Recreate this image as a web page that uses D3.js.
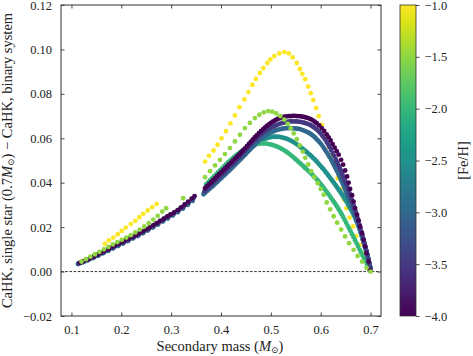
<!DOCTYPE html>
<html><head><meta charset="utf-8">
<script src="https://cdn.jsdelivr.net/npm/d3@7"></script>
<style>
body{margin:0;background:#fff}
svg{display:block}
</style>
</head><body>
<svg id="chart" width="473" height="356"></svg>
<script>
// ---------------- data ----------------
const xTicks = [0.1, 0.2, 0.3, 0.4, 0.5, 0.6, 0.7];
const yTicks = [-0.02, 0.00, 0.02, 0.04, 0.06, 0.08, 0.10, 0.12];
const cbTicks = [-1.0, -1.5, -2.0, -2.5, -3.0, -3.5, -4.0];
const xLabel = "Secondary mass";
const yLabel = "CaHK, single star";
const cbLabel = "[Fe/H]";

// [Fe/H] = -1.0
const feh_m10 = [
 [0.121,0.0043],[0.130,0.0052],[0.139,0.0063],[0.148,0.0074],[0.157,0.0085],
 [0.167,0.0125],[0.175,0.0140],[0.184,0.0153],[0.193,0.0168],[0.201,0.0183],[0.209,0.0198],[0.219,0.0214],
 [0.228,0.0228],[0.236,0.0245],[0.244,0.0260],[0.253,0.0275],[0.262,0.0290],[0.271,0.0305],
 [0.368,0.0495],[0.376,0.0521],[0.385,0.0545],[0.393,0.0571],[0.401,0.0600],[0.410,0.0632],[0.419,0.0667],
 [0.428,0.0703],[0.437,0.0740],[0.447,0.0775],[0.455,0.0808],[0.463,0.0840],[0.470,0.0867],[0.478,0.0894],
 [0.485,0.0916],[0.493,0.0939],[0.499,0.0955],[0.507,0.0970],[0.517,0.0982],[0.527,0.0988],[0.536,0.0982],
 [0.544,0.0964],[0.552,0.0939],[0.558,0.0912],[0.563,0.0890],[0.569,0.0866],[0.575,0.0833],[0.580,0.0803],
 [0.585,0.0772],[0.591,0.0736],[0.596,0.0700],[0.602,0.0660],[0.609,0.0615],[0.617,0.0560],[0.622,0.0522],
 [0.628,0.0480],[0.634,0.0420],[0.640,0.0370],[0.646,0.0325],[0.652,0.0285],[0.658,0.0243],[0.665,0.0203],
 [0.671,0.0160],[0.678,0.0120],[0.685,0.0083],[0.691,0.0045],[0.698,0.0008]
];
// [Fe/H] = -1.5
const feh_m15 = [
 [0.120,0.0045],[0.129,0.0056],[0.138,0.0067],[0.147,0.0078],[0.156,0.0089],[0.165,0.0100],[0.174,0.0111],
 [0.183,0.0122],[0.192,0.0133],[0.201,0.0143],[0.210,0.0153],[0.219,0.0164],[0.228,0.0176],[0.237,0.0189],
 [0.246,0.0203],[0.255,0.0218],[0.264,0.0234],[0.273,0.0251],[0.282,0.0270],[0.290,0.0285],[0.324,0.0330],
 [0.368,0.0425],[0.378,0.0452],[0.388,0.0478],[0.398,0.0503],[0.408,0.0529],[0.418,0.0556],[0.428,0.0586],
 [0.438,0.0616],[0.448,0.0646],[0.458,0.0669],[0.468,0.0691],[0.477,0.0706],[0.486,0.0717],[0.495,0.0722],
 [0.503,0.0720],[0.511,0.0712],[0.519,0.0700],[0.527,0.0684],[0.534,0.0665],[0.540,0.0645],[0.546,0.0622],
 [0.552,0.0596],[0.558,0.0568],[0.564,0.0540],[0.569,0.0512],[0.575,0.0482],[0.581,0.0452],[0.587,0.0425],
 [0.594,0.0398],[0.600,0.0372],[0.606,0.0346],[0.612,0.0311],[0.619,0.0280],[0.626,0.0249],[0.633,0.0220],
 [0.641,0.0189],[0.649,0.0158],[0.657,0.0128],[0.666,0.0098],[0.674,0.0070],[0.683,0.0045],[0.692,0.0017],
 [0.700,0.0000]
];
// [Fe/H] = -2.0
const feh_m20 = [
 [0.118,0.0038],[0.128,0.0047],[0.138,0.0058],[0.148,0.0069],[0.158,0.0080],[0.168,0.0092],[0.178,0.0104],
 [0.188,0.0116],[0.198,0.0127],[0.208,0.0138],[0.218,0.0149],[0.228,0.0160],[0.238,0.0172],[0.248,0.0185],
 [0.258,0.0199],[0.268,0.0213],[0.278,0.0228],[0.288,0.0242],[0.298,0.0256],[0.308,0.0269],[0.318,0.0284],
 [0.328,0.0301],
 [0.370,0.0392],[0.374,0.0401],[0.378,0.0410],[0.382,0.0419],[0.386,0.0428],[0.390,0.0437],[0.394,0.0446],
 [0.398,0.0455],[0.402,0.0464],[0.406,0.0473],[0.410,0.0482],[0.414,0.0491],[0.418,0.0499],[0.422,0.0507],
 [0.426,0.0515],[0.430,0.0523],[0.434,0.0530],[0.438,0.0537],[0.442,0.0543],[0.446,0.0549],[0.450,0.0554],
 [0.454,0.0559],[0.458,0.0563],[0.462,0.0567],[0.466,0.0570],[0.470,0.0573],[0.474,0.0575],[0.478,0.0576],
 [0.482,0.0577],[0.486,0.0577],[0.490,0.0576],[0.494,0.0575],[0.498,0.0573],[0.502,0.0571],[0.506,0.0568],
 [0.510,0.0565],[0.514,0.0561],[0.518,0.0557],[0.522,0.0552],[0.526,0.0547],[0.530,0.0541],[0.534,0.0535],
 [0.538,0.0528],[0.542,0.0521],[0.546,0.0513],[0.549,0.0507],[0.552,0.0501],[0.555,0.0495],[0.558,0.0489],
 [0.561,0.0483],[0.564,0.0477],[0.567,0.0470],[0.570,0.0464],[0.573,0.0458],[0.576,0.0452],[0.579,0.0446],
 [0.582,0.0439],[0.585,0.0432],[0.588,0.0425],[0.591,0.0418],[0.594,0.0410],[0.597,0.0402],[0.600,0.0394],
 [0.603,0.0386],[0.606,0.0377],[0.609,0.0368],[0.612,0.0359],[0.615,0.0350],[0.618,0.0341],[0.621,0.0331],
 [0.624,0.0322],[0.627,0.0312],[0.630,0.0302],[0.633,0.0292],[0.636,0.0281],[0.639,0.0270],[0.642,0.0258],
 [0.645,0.0246],[0.648,0.0233],[0.651,0.0220],[0.654,0.0207],[0.657,0.0194],[0.660,0.0181],[0.663,0.0168],
 [0.666,0.0155],[0.669,0.0141],[0.672,0.0127],[0.675,0.0113],[0.678,0.0099],[0.681,0.0086],[0.684,0.0072],
 [0.687,0.0059],[0.690,0.0046],[0.693,0.0033],[0.696,0.0020],[0.699,0.0007]
];
// [Fe/H] = -2.5
const feh_m25 = [
 [0.114,0.0036],[0.124,0.0044],[0.134,0.0053],[0.144,0.0063],[0.154,0.0073],[0.164,0.0084],[0.174,0.0095],
 [0.184,0.0106],[0.194,0.0117],[0.204,0.0128],[0.214,0.0140],[0.224,0.0151],[0.234,0.0163],[0.244,0.0175],
 [0.254,0.0188],[0.264,0.0201],[0.274,0.0214],[0.284,0.0228],[0.294,0.0242],[0.304,0.0255],[0.314,0.0270],
 [0.324,0.0286],[0.334,0.0303],
 [0.366,0.0355],[0.370,0.0364],[0.374,0.0372],[0.378,0.0381],[0.382,0.0390],[0.386,0.0398],[0.390,0.0407],
 [0.394,0.0416],[0.398,0.0425],[0.402,0.0433],[0.406,0.0442],[0.410,0.0450],[0.414,0.0459],[0.418,0.0467],
 [0.422,0.0476],[0.426,0.0484],[0.430,0.0493],[0.434,0.0501],[0.438,0.0510],[0.442,0.0518],[0.446,0.0527],
 [0.450,0.0535],[0.454,0.0543],[0.458,0.0551],[0.462,0.0559],[0.466,0.0566],[0.470,0.0573],[0.474,0.0579],
 [0.478,0.0585],[0.482,0.0590],[0.486,0.0595],[0.490,0.0599],[0.494,0.0602],[0.498,0.0604],[0.502,0.0606],
 [0.506,0.0607],[0.510,0.0607],[0.514,0.0607],[0.518,0.0606],[0.522,0.0604],[0.526,0.0602],[0.530,0.0599],
 [0.534,0.0596],[0.538,0.0592],[0.542,0.0587],[0.546,0.0582],[0.550,0.0576],[0.554,0.0570],[0.558,0.0563],
 [0.561,0.0558],[0.564,0.0552],[0.567,0.0547],[0.570,0.0541],[0.573,0.0536],[0.576,0.0530],[0.579,0.0524],
 [0.582,0.0518],[0.585,0.0511],[0.588,0.0505],[0.591,0.0498],[0.594,0.0490],[0.597,0.0483],[0.600,0.0475],
 [0.603,0.0467],[0.606,0.0460],[0.609,0.0451],[0.612,0.0443],[0.615,0.0434],[0.618,0.0425],[0.621,0.0416],
 [0.624,0.0407],[0.627,0.0398],[0.630,0.0389],[0.632,0.0382],[0.634,0.0376],[0.636,0.0370],[0.638,0.0363],
 [0.640,0.0356],[0.642,0.0350],[0.644,0.0343],[0.646,0.0336],[0.648,0.0329],[0.650,0.0321],[0.652,0.0314],
 [0.654,0.0306],[0.656,0.0298],[0.658,0.0290],[0.660,0.0282],[0.662,0.0274],[0.664,0.0265],[0.666,0.0256],
 [0.668,0.0247],[0.670,0.0237],[0.672,0.0227],[0.674,0.0217],[0.676,0.0206],[0.678,0.0194],[0.680,0.0182],
 [0.682,0.0169],[0.684,0.0155],[0.686,0.0141],[0.688,0.0126],[0.690,0.0110],[0.692,0.0093],[0.694,0.0076],
 [0.696,0.0058],[0.698,0.0039],[0.700,0.0020]
];
// [Fe/H] = -3.0
const feh_m30 = [
 [0.113,0.0034],[0.123,0.0042],[0.133,0.0051],[0.143,0.0061],[0.153,0.0071],[0.163,0.0082],[0.173,0.0093],
 [0.183,0.0104],[0.193,0.0115],[0.203,0.0126],[0.213,0.0137],[0.223,0.0149],[0.233,0.0160],[0.243,0.0172],
 [0.253,0.0185],[0.263,0.0198],[0.273,0.0211],[0.283,0.0225],[0.293,0.0239],[0.303,0.0252],[0.313,0.0267],
 [0.323,0.0283],[0.333,0.0300],[0.343,0.0318],
 [0.365,0.0348],[0.369,0.0356],[0.373,0.0364],[0.377,0.0372],[0.381,0.0380],[0.385,0.0388],[0.389,0.0396],
 [0.393,0.0404],[0.397,0.0413],[0.401,0.0421],[0.405,0.0430],[0.409,0.0438],[0.413,0.0447],[0.417,0.0455],
 [0.421,0.0464],[0.425,0.0473],[0.429,0.0482],[0.433,0.0491],[0.437,0.0500],[0.441,0.0509],[0.445,0.0518],
 [0.449,0.0527],[0.453,0.0537],[0.457,0.0546],[0.461,0.0556],[0.465,0.0565],[0.469,0.0574],[0.473,0.0583],
 [0.477,0.0591],[0.481,0.0599],[0.485,0.0606],[0.489,0.0612],[0.493,0.0618],[0.497,0.0623],[0.501,0.0627],
 [0.505,0.0631],[0.509,0.0635],[0.513,0.0638],[0.517,0.0640],[0.521,0.0642],[0.525,0.0644],[0.529,0.0645],
 [0.533,0.0646],[0.537,0.0646],[0.541,0.0646],[0.545,0.0645],[0.549,0.0645],[0.553,0.0643],[0.557,0.0642],
 [0.561,0.0639],[0.565,0.0636],[0.569,0.0632],[0.573,0.0628],[0.576,0.0625],[0.579,0.0621],[0.582,0.0616],
 [0.585,0.0611],[0.588,0.0605],[0.591,0.0598],[0.594,0.0591],[0.597,0.0584],[0.600,0.0576],[0.603,0.0567],
 [0.606,0.0557],[0.609,0.0547],[0.612,0.0537],[0.615,0.0526],[0.618,0.0515],[0.621,0.0503],[0.624,0.0491],
 [0.626,0.0482],[0.628,0.0474],[0.630,0.0465],[0.632,0.0456],[0.634,0.0447],[0.636,0.0437],[0.638,0.0427],
 [0.640,0.0417],[0.642,0.0407],[0.644,0.0396],[0.646,0.0386],[0.648,0.0375],[0.650,0.0364],[0.652,0.0353],
 [0.654,0.0342],[0.656,0.0330],[0.658,0.0319],[0.660,0.0307],[0.662,0.0295],[0.664,0.0283],[0.666,0.0270],
 [0.668,0.0257],[0.670,0.0244],[0.672,0.0231],[0.674,0.0217],[0.676,0.0204],[0.678,0.0190],[0.680,0.0175],
 [0.682,0.0161],[0.684,0.0146],[0.686,0.0131],[0.688,0.0115],[0.690,0.0100],[0.692,0.0082],[0.694,0.0064],
 [0.696,0.0045],[0.698,0.0027],[0.700,0.0008]
];
// [Fe/H] = -3.5
const feh_m35 = [
 [0.115,0.0037],[0.125,0.0046],[0.135,0.0055],[0.145,0.0065],[0.155,0.0076],[0.165,0.0087],[0.175,0.0098],
 [0.185,0.0110],[0.195,0.0121],[0.205,0.0132],[0.215,0.0144],[0.225,0.0155],[0.235,0.0167],[0.245,0.0180],
 [0.255,0.0193],[0.265,0.0206],[0.275,0.0220],[0.285,0.0234],[0.295,0.0248],[0.305,0.0261],[0.315,0.0276],
 [0.325,0.0293],[0.335,0.0311],[0.345,0.0331],
 [0.367,0.0362],[0.371,0.0370],[0.375,0.0379],[0.379,0.0388],[0.383,0.0396],[0.387,0.0405],[0.391,0.0413],
 [0.395,0.0422],[0.399,0.0430],[0.403,0.0439],[0.407,0.0448],[0.411,0.0457],[0.415,0.0466],[0.419,0.0475],
 [0.423,0.0484],[0.427,0.0493],[0.431,0.0502],[0.435,0.0511],[0.439,0.0520],[0.443,0.0530],[0.447,0.0540],
 [0.451,0.0550],[0.455,0.0560],[0.459,0.0570],[0.463,0.0580],[0.467,0.0589],[0.471,0.0598],[0.475,0.0606],
 [0.479,0.0614],[0.483,0.0622],[0.487,0.0629],[0.491,0.0635],[0.495,0.0641],[0.499,0.0646],[0.503,0.0651],
 [0.507,0.0655],[0.511,0.0659],[0.515,0.0663],[0.519,0.0666],[0.523,0.0669],[0.527,0.0671],[0.531,0.0673],
 [0.535,0.0675],[0.539,0.0676],[0.543,0.0676],[0.547,0.0676],[0.551,0.0676],[0.555,0.0675],[0.559,0.0674],
 [0.563,0.0672],[0.567,0.0670],[0.571,0.0667],[0.575,0.0664],[0.579,0.0660],[0.582,0.0656],[0.585,0.0652],
 [0.588,0.0647],[0.591,0.0642],[0.594,0.0636],[0.597,0.0629],[0.600,0.0621],[0.603,0.0613],[0.606,0.0604],
 [0.609,0.0594],[0.612,0.0583],[0.615,0.0572],[0.618,0.0560],[0.621,0.0547],[0.624,0.0534],[0.627,0.0521],
 [0.630,0.0507],[0.632,0.0497],[0.634,0.0487],[0.636,0.0477],[0.638,0.0467],[0.640,0.0457],[0.642,0.0446],
 [0.644,0.0435],[0.646,0.0424],[0.648,0.0413],[0.650,0.0401],[0.652,0.0389],[0.654,0.0377],[0.656,0.0365],
 [0.658,0.0352],[0.660,0.0339],[0.662,0.0326],[0.664,0.0313],[0.666,0.0299],[0.668,0.0285],[0.670,0.0271],
 [0.672,0.0256],[0.674,0.0241],[0.676,0.0226],[0.678,0.0210],[0.680,0.0194],[0.682,0.0178],[0.684,0.0162],
 [0.686,0.0145],[0.688,0.0128],[0.690,0.0111],[0.692,0.0093],[0.694,0.0075],[0.696,0.0056],[0.698,0.0036],
 [0.700,0.0016]
];
// [Fe/H] = -4.0
const feh_m40 = [
 [0.117,0.0040],[0.124,0.0047],[0.131,0.0054],[0.138,0.0061],[0.145,0.0069],[0.152,0.0077],[0.159,0.0085],
 [0.166,0.0093],[0.173,0.0101],[0.180,0.0109],[0.187,0.0117],[0.194,0.0125],[0.201,0.0132],[0.208,0.0140],
 [0.215,0.0148],[0.222,0.0156],[0.229,0.0164],[0.236,0.0172],[0.243,0.0181],[0.250,0.0190],[0.257,0.0199],
 [0.264,0.0208],[0.271,0.0218],[0.278,0.0228],[0.285,0.0238],[0.292,0.0248],[0.299,0.0257],[0.306,0.0266],
 [0.313,0.0277],[0.320,0.0289],[0.327,0.0302],[0.334,0.0315],[0.341,0.0328],[0.347,0.0340],
 [0.368,0.0376],[0.372,0.0385],[0.376,0.0393],[0.380,0.0402],[0.384,0.0411],[0.388,0.0420],[0.392,0.0429],
 [0.396,0.0438],[0.400,0.0446],[0.404,0.0455],[0.408,0.0464],[0.412,0.0473],[0.416,0.0482],[0.420,0.0490],
 [0.424,0.0499],[0.428,0.0508],[0.432,0.0517],[0.436,0.0526],[0.440,0.0535],[0.444,0.0545],[0.448,0.0555],
 [0.452,0.0565],[0.456,0.0575],[0.460,0.0585],[0.464,0.0595],[0.468,0.0605],[0.472,0.0614],[0.476,0.0623],
 [0.480,0.0632],[0.484,0.0640],[0.488,0.0648],[0.492,0.0656],[0.496,0.0663],[0.500,0.0669],[0.504,0.0675],
 [0.508,0.0680],[0.512,0.0685],[0.516,0.0689],[0.520,0.0692],[0.524,0.0695],[0.528,0.0697],[0.532,0.0699],
 [0.536,0.0700],[0.540,0.0700],[0.544,0.0701],[0.548,0.0701],[0.552,0.0700],[0.556,0.0700],[0.560,0.0699],
 [0.564,0.0697],[0.568,0.0695],[0.572,0.0693],[0.576,0.0690],[0.580,0.0686],[0.584,0.0681],[0.588,0.0675],
 [0.592,0.0668],[0.597,0.0658],[0.602,0.0646],[0.607,0.0633],[0.612,0.0618],[0.616,0.0604],[0.620,0.0590],
 [0.624,0.0574],[0.628,0.0558],[0.632,0.0542],[0.636,0.0526],[0.641,0.0503],[0.645,0.0481],[0.649,0.0455],
 [0.653,0.0428],[0.656,0.0400],[0.659,0.0372],[0.663,0.0344],[0.666,0.0315],[0.669,0.0286],[0.673,0.0256],
 [0.676,0.0230],[0.679,0.0203],[0.683,0.0173],[0.686,0.0143],[0.689,0.0113],[0.692,0.0083],[0.696,0.0045],
 [0.699,0.0005]
];

// drawing order (first drawn at bottom)
const seriesList = [
 {feh:-1.0, pts:feh_m10},
 {feh:-2.5, pts:feh_m25},
 {feh:-2.0, pts:feh_m20},
 {feh:-3.0, pts:feh_m30},
 {feh:-3.5, pts:feh_m35},
 {feh:-4.0, pts:feh_m40},
 {feh:-1.5, pts:feh_m15}
];

// ---------------- layout ----------------
const FONT = "font-family:'Liberation Serif','DejaVu Serif',serif";
const svg = d3.select("#chart");
const P = {left:61, right:381, top:5, bottom:316};
const x = d3.scaleLinear().domain([0.079, 0.721]).range([P.left, P.right]);
const y = d3.scaleLinear().domain([-0.02, 0.12]).range([P.bottom, P.top]);
const cscale = d3.scaleSequential(d3.interpolateViridis).domain([-4.0, -1.0]);
const minus = s => s.replace("-", "\u2212");

// zero dashed line
svg.append("line")
  .attr("x1", P.left).attr("x2", P.right)
  .attr("y1", y(0)).attr("y2", y(0))
  .attr("stroke", "#000").attr("stroke-width", 0.8)
  .attr("stroke-dasharray", "2.6,1.6");

// points
const gPts = svg.append("g");
seriesList.forEach(s => {
  gPts.append("g").selectAll("circle").data(s.pts).join("circle")
    .attr("cx", d => x(d[0])).attr("cy", d => y(d[1]))
    .attr("r", 2.4).attr("fill", cscale(s.feh));
});

// axes (ticks inward on all four sides)
const tl = 3.5;
const fmtX = d3.format(".1f"), fmtY = d3.format(".2f");
svg.append("g").attr("transform", `translate(0,${P.bottom})`)
  .call(d3.axisBottom(x).tickValues(xTicks).tickSize(-tl).tickPadding(9).tickFormat(fmtX));
svg.append("g").attr("transform", `translate(0,${P.top})`)
  .call(d3.axisTop(x).tickValues(xTicks).tickSize(-tl).tickFormat(""));
svg.append("g").attr("transform", `translate(${P.left},0)`)
  .call(d3.axisLeft(y).tickValues(yTicks).tickSize(-tl).tickPadding(9).tickFormat(d => minus(fmtY(d))));
svg.append("g").attr("transform", `translate(${P.right},0)`)
  .call(d3.axisRight(y).tickValues(yTicks).tickSize(-tl).tickFormat(""));
svg.selectAll(".domain").remove();
svg.selectAll(".tick line").attr("stroke", "#333").attr("stroke-width", 0.9);
svg.selectAll(".tick text").attr("style", FONT + ";font-size:12.5px;fill:#222");
svg.append("rect").attr("x", P.left).attr("y", P.top)
  .attr("width", P.right - P.left).attr("height", P.bottom - P.top)
  .attr("fill", "none").attr("stroke", "#333").attr("stroke-width", 1);

// axis labels
const xl = svg.append("text").attr("x", 220).attr("y", 350.5)
  .attr("text-anchor", "middle").attr("style", FONT + ";font-size:14.5px;fill:#222");
xl.append("tspan").text(xLabel + " (");
xl.append("tspan").attr("font-style", "italic").text("M");
xl.append("tspan").attr("style", "font-family:'DejaVu Serif';font-size:9px").attr("dy", 2.5).text("\u2299");
xl.append("tspan").attr("dy", -2.5).text(")");

const yl = svg.append("text").attr("transform", "translate(11.5,160.5) rotate(-90)")
  .attr("text-anchor", "middle").attr("style", FONT + ";font-size:14.5px;fill:#222");
yl.append("tspan").text(yLabel + " (0.7");
yl.append("tspan").attr("font-style", "italic").text("M");
yl.append("tspan").attr("style", "font-family:'DejaVu Serif';font-size:9px").attr("dy", 2.5).text("\u2299");
yl.append("tspan").attr("dy", -2.5).text(") \u2212 CaHK, binary system");

// colorbar
const CB = {x:400, w:16, top:5, bottom:316};
const cy = d3.scaleLinear().domain([-4.0, -1.0]).range([CB.bottom, CB.top]);
const defs = svg.append("defs");
const grad = defs.append("linearGradient").attr("id", "cbg")
  .attr("x1", 0).attr("y1", 1).attr("x2", 0).attr("y2", 0);
d3.range(0, 1.0001, 0.05).forEach(t => {
  grad.append("stop").attr("offset", t).attr("stop-color", d3.interpolateViridis(t));
});
svg.append("rect").attr("x", CB.x).attr("y", CB.top).attr("width", CB.w)
  .attr("height", CB.bottom - CB.top).attr("fill", "url(#cbg)")
  .attr("stroke", "#333").attr("stroke-width", 0.8);
const cax = svg.append("g").attr("transform", `translate(${CB.x + CB.w},0)`)
  .call(d3.axisRight(cy).tickValues(cbTicks).tickSize(3.5).tickPadding(5)
    .tickFormat(d => minus(d3.format(".1f")(d))));
cax.select(".domain").remove();
cax.selectAll(".tick line").attr("stroke", "#333").attr("stroke-width", 0.9);
cax.selectAll(".tick text").attr("style", FONT + ";font-size:12.5px;fill:#222");
svg.append("text").attr("transform", "translate(468,160.5) rotate(-90)")
  .attr("text-anchor", "middle").attr("style", FONT + ";font-size:14.5px;fill:#222").text(cbLabel);
</script>
</body></html>
